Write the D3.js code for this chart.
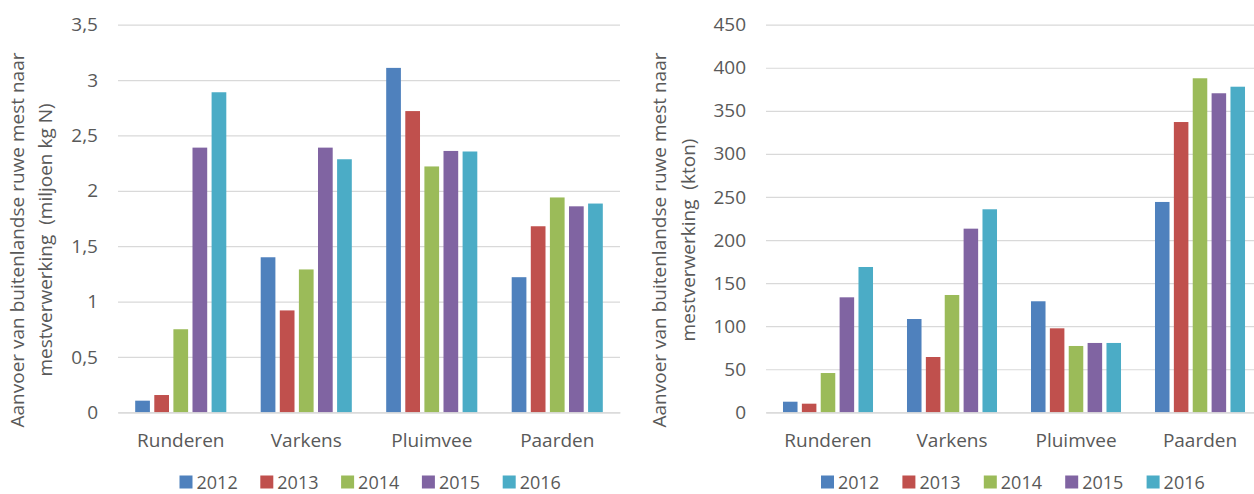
<!DOCTYPE html>
<html><head><meta charset="utf-8">
<script src="https://cdn.jsdelivr.net/npm/d3@7"></script>
<style>
body{margin:0;background:#fff;overflow:hidden}
text{font-family:"Open Sans",sans-serif;fill:#595959}
</style>
</head><body>
<svg id="c" width="1254" height="494"></svg>
<script>
const categories = ["Runderen", "Varkens", "Pluimvee", "Paarden"];
const years = ["2012", "2013", "2014", "2015", "2016"];
const colors = ["#4F81BD", "#C0504D", "#9BBB59", "#8064A2", "#4BACC6"];

// Left chart: miljoen kg N
const kgN2012 = [0.105, 1.40, 3.11, 1.22];
const kgN2013 = [0.156, 0.92, 2.72, 1.68];
const kgN2014 = [0.75, 1.29, 2.22, 1.94];
const kgN2015 = [2.39, 2.39, 2.36, 1.86];
const kgN2016 = [2.89, 2.285, 2.355, 1.885];
const kgNTicks = [0, 0.5, 1, 1.5, 2, 2.5, 3, 3.5];

// Right chart: kton
const kton2012 = [12.3, 108.3, 128.9, 244.2];
const kton2013 = [10, 64.2, 97.5, 337];
const kton2014 = [45.6, 136.2, 77, 387.8];
const kton2015 = [133.5, 213.2, 80.5, 370.4];
const kton2016 = [168.7, 235.7, 80.5, 378];
const ktonTicks = [0, 50, 100, 150, 200, 250, 300, 350, 400, 450];

const leftTitle = ["Aanvoer van buitenlandse ruwe mest naar", "mestverwerking  (miljoen kg N)"];
const rightTitle = ["Aanvoer van buitenlandse ruwe mest naar", "mestverwerking  (kton)"];

const svg = d3.select("#c");

function drawChart(cfg) {
  const series = cfg.series;
  const g = svg.append("g");
  const yTop = 24.7, yBot = 412.3;
  const y = d3.scaleLinear().domain([0, d3.max(cfg.ticks)]).range([yBot, yTop]);
  const x0 = d3.scaleBand().domain(categories).range([cfg.x0, cfg.x1]).padding(0);
  const bw = x0.bandwidth();
  const padF = 0.137;
  const x1 = d3.scaleBand().domain(years).range([bw * padF, bw * (1 - padF)]).paddingInner(0.23).paddingOuter(0);

  // gridlines
  const grid = g.append("g").attr("transform", `translate(${cfg.x0},0)`)
    .call(d3.axisLeft(y).tickValues(cfg.ticks).tickSize(-(cfg.x1 - cfg.x0)).tickFormat(""));
  grid.select(".domain").remove();
  grid.selectAll("line").attr("stroke", "#D9D9D9").attr("stroke-width", 1.2);

  // y labels
  const ya = g.append("g").attr("transform", `translate(${cfg.x0},0)`)
    .call(d3.axisLeft(y).tickValues(cfg.ticks).tickSize(0).tickPadding(20).tickFormat(cfg.fmt));
  ya.select(".domain").remove();
  ya.selectAll("text").attr("font-size", 19).attr("fill", "#595959").style("font-family", '"Open Sans",sans-serif');

  // bars
  const groups = g.selectAll("g.cat").data(categories).join("g")
    .attr("class", "cat")
    .attr("transform", d => `translate(${x0(d)},0)`);
  groups.selectAll("rect").data((c, ci) => years.map((yr, yi) => ({ yr, yi, v: series[yi][ci] })))
    .join("rect")
    .attr("x", d => x1(d.yr))
    .attr("width", x1.bandwidth())
    .attr("y", d => y(d.v))
    .attr("height", d => y(0) - y(d.v))
    .attr("fill", d => colors[d.yi]);

  // x axis
  const xa = g.append("g").attr("transform", `translate(0,${yBot})`)
    .call(d3.axisBottom(x0).tickSize(0).tickPadding(21));
  xa.select(".domain").attr("stroke", "#D9D9D9").attr("stroke-width", 1.2);
  xa.selectAll("text").attr("font-size", 19).attr("fill", "#595959").style("font-family", '"Open Sans",sans-serif');

  // axis title
  cfg.title.forEach((t, i) => {
    g.append("text")
      .attr("transform", `translate(${cfg.titleX[i]},240) rotate(-90)`)
      .attr("text-anchor", "middle")
      .attr("dominant-baseline", "central")
      .attr("font-size", 19)
      .style("white-space", "pre")
      .attr("xml:space", "preserve")
      .text(t);
  });

  // legend
  const lg = g.append("g");
  years.forEach((yr, i) => {
    const lx = cfg.legendX + i * cfg.legendStep;
    lg.append("rect").attr("x", lx).attr("y", 475.5).attr("width", 13).attr("height", 13).attr("fill", colors[i]);
    lg.append("text").attr("x", lx + 17).attr("y", 488.5).attr("font-size", 18).text(yr);
  });
}

const commaFmt = d => d3.format("")(d).replace(".", ",");

drawChart({
  series: [kgN2012, kgN2013, kgN2014, kgN2015, kgN2016],
  ticks: kgNTicks, fmt: commaFmt,
  x0: 118, x1: 620,
  title: leftTitle, titleX: [17, 45],
  legendX: 179.5, legendStep: 80.8
});
drawChart({
  series: [kton2012, kton2013, kton2014, kton2015, kton2016],
  ticks: ktonTicks, fmt: d3.format("d"),
  x0: 766, x1: 1262,
  title: rightTitle, titleX: [659, 688],
  legendX: 821, legendStep: 81.4
});
</script>
</body></html>
